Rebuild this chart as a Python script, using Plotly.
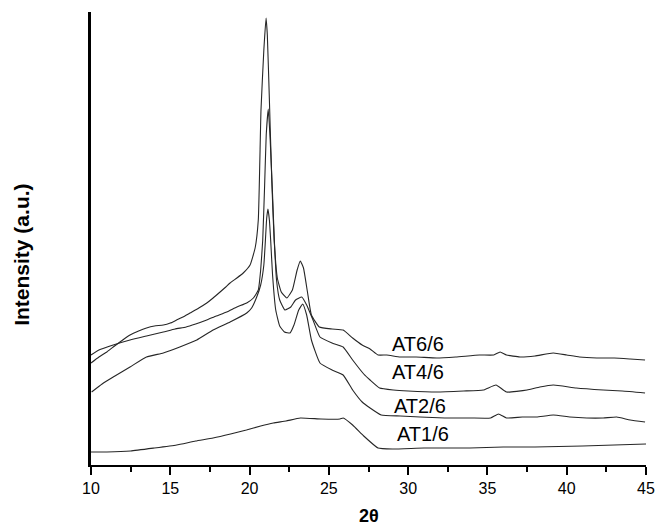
import plotly.graph_objects as go

# XRD patterns, intensity in arbitrary units (stacked traces)
two_theta_at6 = [10.0, 10.5, 11.0, 11.4, 12.0, 12.46, 13.0, 13.5, 14.0, 14.56, 15.0, 15.4,
                 15.8, 16.24, 16.8, 17.3, 17.7, 18.14, 18.5, 18.77, 19.2, 19.6, 20.03, 20.35,
                 20.55, 20.72, 20.9, 21.04, 21.12, 21.25, 21.4, 21.55, 21.75, 22.0, 22.35,
                 22.7, 23.0, 23.2, 23.4, 23.65, 23.9, 24.4, 25.2, 25.9, 26.5, 27.1, 27.6,
                 28.1, 28.65, 29.5, 30.5, 31.8, 33.0, 34.5, 35.4, 35.8, 36.2, 37.05, 38.0,
                 39.15, 40.0, 40.8, 41.9, 43.0, 44.0, 44.94]
intensity_at6 = [102, 108, 113, 118, 125, 130, 134, 137, 139, 140, 142, 145,
                 148, 152, 157, 162, 167, 173, 178, 182, 187, 192, 200, 217,
                 245, 355, 415, 447, 430, 365, 285, 225, 187, 173, 167,
                 175, 195, 204, 197, 173, 150, 138, 136, 135, 127, 120, 116,
                 110, 110, 108, 108, 107, 108, 110, 110, 113, 110, 108, 109,
                 112, 110, 108, 107, 107, 106, 105]

two_theta_at4 = [10.0, 10.5, 11.4, 12.46, 13.5, 14.56, 15.3, 16.0, 16.6, 17.3, 17.9, 18.56,
                 19.2, 19.82, 20.24, 20.55, 20.7, 20.83, 20.95, 21.05, 21.18, 21.3, 21.45,
                 21.56, 21.7, 21.9, 22.23, 22.6, 22.9, 23.29, 23.6, 24.0, 24.44, 25.2, 25.9,
                 26.5, 27.2, 27.6, 28.2, 29.07, 30.0, 31.8, 33.5, 34.74, 35.54, 36.2, 37.5,
                 38.3, 39.15, 40.6, 42.3, 43.5, 44.94]
intensity_at4 = [110, 115, 120, 125, 129, 133, 136, 138, 141, 145, 149, 153,
                 158, 162, 167, 175, 195, 225, 280, 330, 356, 325, 270,
                 225, 185, 165, 155, 158, 165, 168, 160, 145, 128, 122, 118,
                 105, 91, 85, 77, 75, 74, 73, 74, 75, 80, 73, 75,
                 78, 80, 77, 75, 74, 72]

two_theta_at2 = [10.04, 10.7, 11.4, 12.46, 13.5, 14.56, 15.6, 16.67, 17.7, 18.77, 19.82,
                 20.13, 20.45, 20.7, 20.9, 21.0, 21.08, 21.16, 21.25, 21.33, 21.45, 21.65,
                 21.9, 22.2, 22.55, 22.8, 23.1, 23.35, 23.6, 23.9, 24.44, 25.2, 25.9, 26.5,
                 27.1, 27.6, 28.3, 29.5, 30.75, 32.3, 33.9, 35.2, 35.7, 36.2, 37.2, 38.1,
                 39.15, 40.2, 41.26, 42.3, 43.15, 44.0, 44.94]
intensity_at2 = [73, 81, 88, 98, 108, 112, 118, 125, 135, 143, 152,
                 157, 168, 180, 200, 225, 247, 256, 245, 225, 190, 155,
                 139, 133, 132, 140, 155, 161, 150, 125, 102, 95, 90, 75,
                 63, 57, 50, 49, 48, 47, 47, 47, 51, 47, 48, 48,
                 50, 48, 47, 47, 48, 45, 43]

two_theta_at1 = [10.0, 11.0, 12.5, 14.0, 15.4, 16.6, 17.7, 18.8, 19.8, 20.7, 21.5, 22.3,
                 23.2, 24.5, 25.7, 25.9, 26.5, 27.2, 28.1, 29.0, 31.0, 33.9, 36.0, 38.0,
                 41.0, 43.0, 45.0]
intensity_at1 = [13, 13, 14, 17, 20, 24, 27, 31, 35, 39, 42, 44,
                 47, 46, 46, 47, 40, 29, 17, 16, 17, 17, 18, 18,
                 19, 20, 21]

series = [
    ("AT6/6", two_theta_at6, intensity_at6),
    ("AT4/6", two_theta_at4, intensity_at4),
    ("AT2/6", two_theta_at2, intensity_at2),
    ("AT1/6", two_theta_at1, intensity_at1),
]

# label anchor positions (2θ, intensity)
label_names = ["AT6/6", "AT4/6", "AT2/6", "AT1/6"]
label_x = [30.62, 30.62, 30.75, 30.94]
label_y = [121, 93, 59, 31]

fig = go.Figure()
for name, xs, ys in series:
    fig.add_trace(go.Scatter(
        x=xs, y=ys, mode="lines", name=name,
        line=dict(color="#262626", width=1.1, shape="spline", smoothing=0.4),
        showlegend=False, hoverinfo="skip",
    ))

annotations = []
for name, lx, ly in zip(label_names, label_x, label_y):
    annotations.append(dict(
        x=lx, y=ly, xref="x", yref="y", text=name, showarrow=False,
        font=dict(family="Liberation Sans, Arial, sans-serif", size=20, color="black"),
        xanchor="center", yanchor="middle",
    ))

# axis titles
annotations.append(dict(
    x=-69 / 555, y=0.464, xref="paper", yref="paper", text="<b>Intensity (a.u.)</b>",
    textangle=-90, showarrow=False, xanchor="center", yanchor="middle",
    font=dict(family="Liberation Sans, Arial, sans-serif", size=21, color="black"),
))
annotations.append(dict(
    x=0.5, y=-51 / 453, xref="paper", yref="paper", text="<b>2θ</b>",
    showarrow=False, xanchor="center", yanchor="middle",
    font=dict(family="Liberation Sans, Arial, sans-serif", size=18, color="black"),
))

fig.update_layout(
    width=655, height=529,
    margin=dict(l=91, r=9, t=12, b=64),
    paper_bgcolor="white", plot_bgcolor="white",
    font=dict(family="Liberation Sans, Arial, sans-serif", color="black"),
    annotations=annotations,
)

fig.update_xaxes(
    range=[10, 45], showgrid=False, zeroline=False, automargin=False,
    showline=True, linecolor="black", linewidth=2,
    ticks="outside", ticklen=8, tickwidth=1.5, tickcolor="black",
    tick0=10, dtick=5,
    tickfont=dict(size=16, color="black"),
    minor=dict(ticks="outside", ticklen=5, tickwidth=1.5, tickcolor="black", dtick=2.5),
)
fig.update_yaxes(
    range=[0, 453], showgrid=False, zeroline=False, automargin=False,
    showline=True, linecolor="black", linewidth=3,
    ticks="", showticklabels=False,
)

fig.write_html("out.html")
